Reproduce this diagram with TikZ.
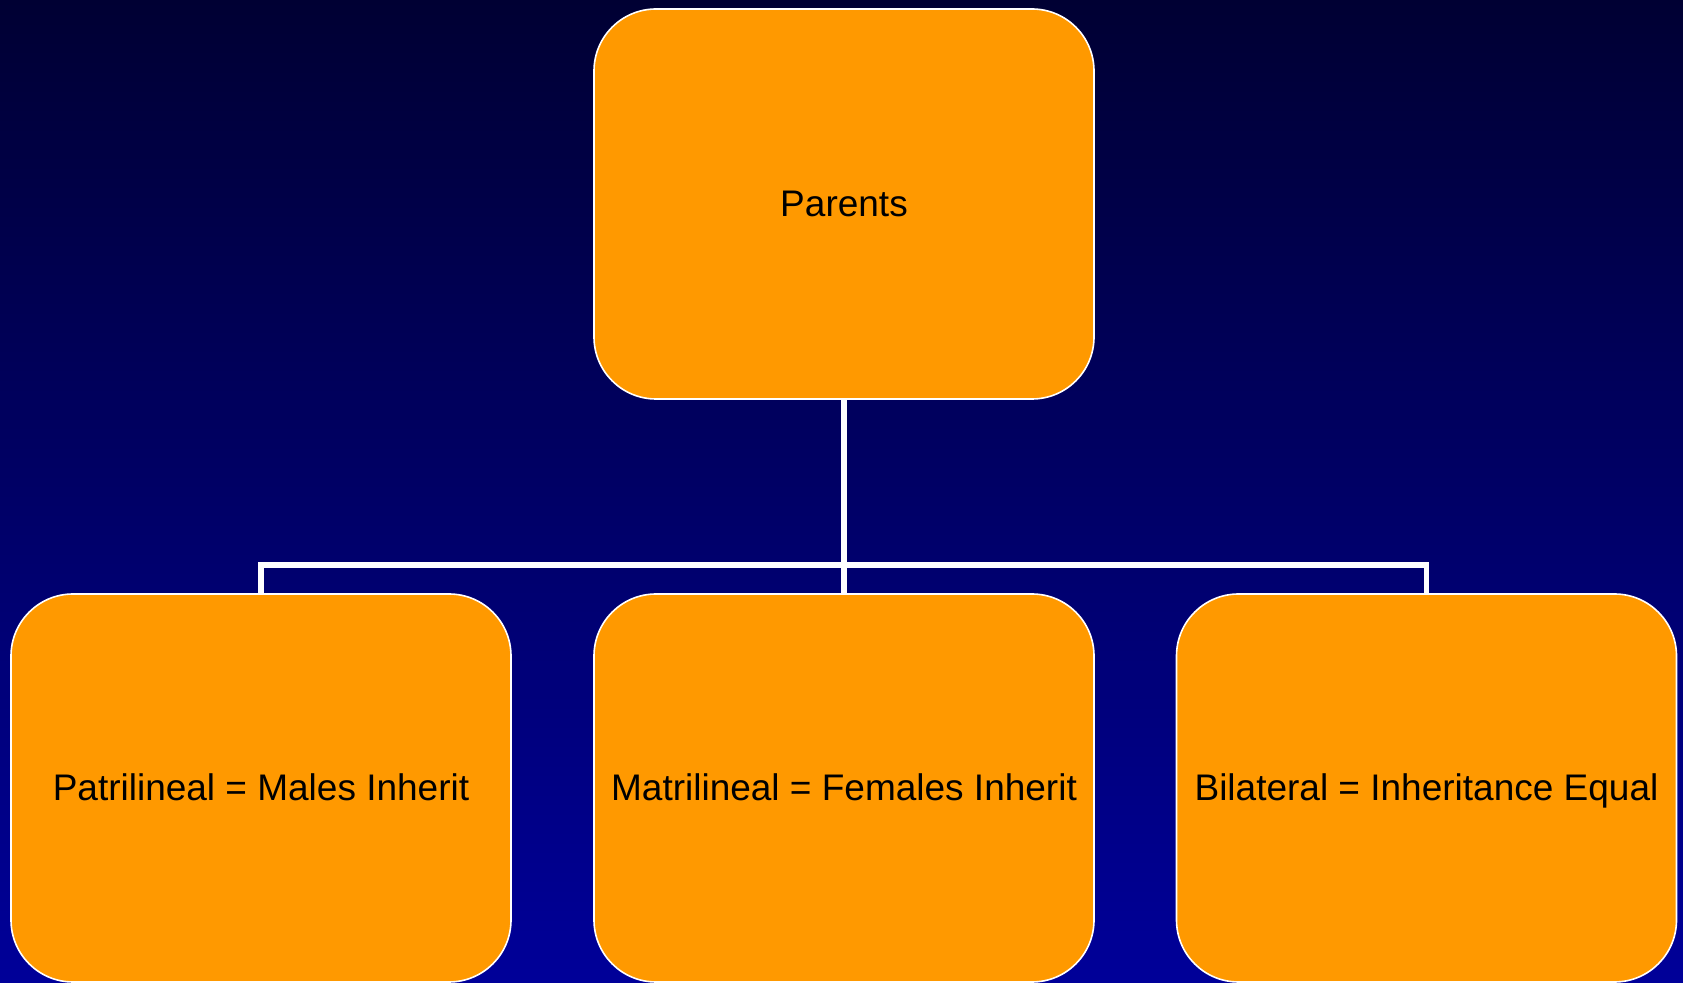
\documentclass[tikz,border=0pt]{standalone}
\usepackage{fontspec}
\setmainfont{Liberation Sans}
\definecolor{boxorange}{RGB}{255,153,0}
\definecolor{bgtop}{RGB}{0,0,51}
\definecolor{bgbot}{RGB}{0,0,153}
\begin{document}
\begin{tikzpicture}[x=0.5pt,y=-0.5pt,
    kinbox/.style={draw=white,line width=0.8pt,fill=boxorange,rounded corners=31pt,
      minimum width=250pt,minimum height=194pt,inner sep=0pt,text height=12.5pt,text depth=0pt,
      font=\fontsize{18.5}{22}\selectfont},
    link/.style={draw=white,line width=2.8pt}]
  \useasboundingbox (0,0) rectangle (1683,983);
  \shade[top color=bgtop,bottom color=bgbot] (0,0) rectangle (1683,983);
  % boxes
  \node[kinbox,minimum height=195pt] (parents) at (844,204) {Parents};
  \node[kinbox] (patri) at (261,788) {Patrilineal = Males Inherit};
  \node[kinbox] (matri) at (844,788) {Matrilineal = Females Inherit};
  \node[kinbox] (bilat) at (1426.5,788) {Bilateral = Inheritance Equal};
  % connectors
  \coordinate (bus) at (844,565);
  \draw[link] (parents.south) -- (matri.north);
  \draw[link] (patri.north) |- (bus) -| (bilat.north);
\end{tikzpicture}
\end{document}
